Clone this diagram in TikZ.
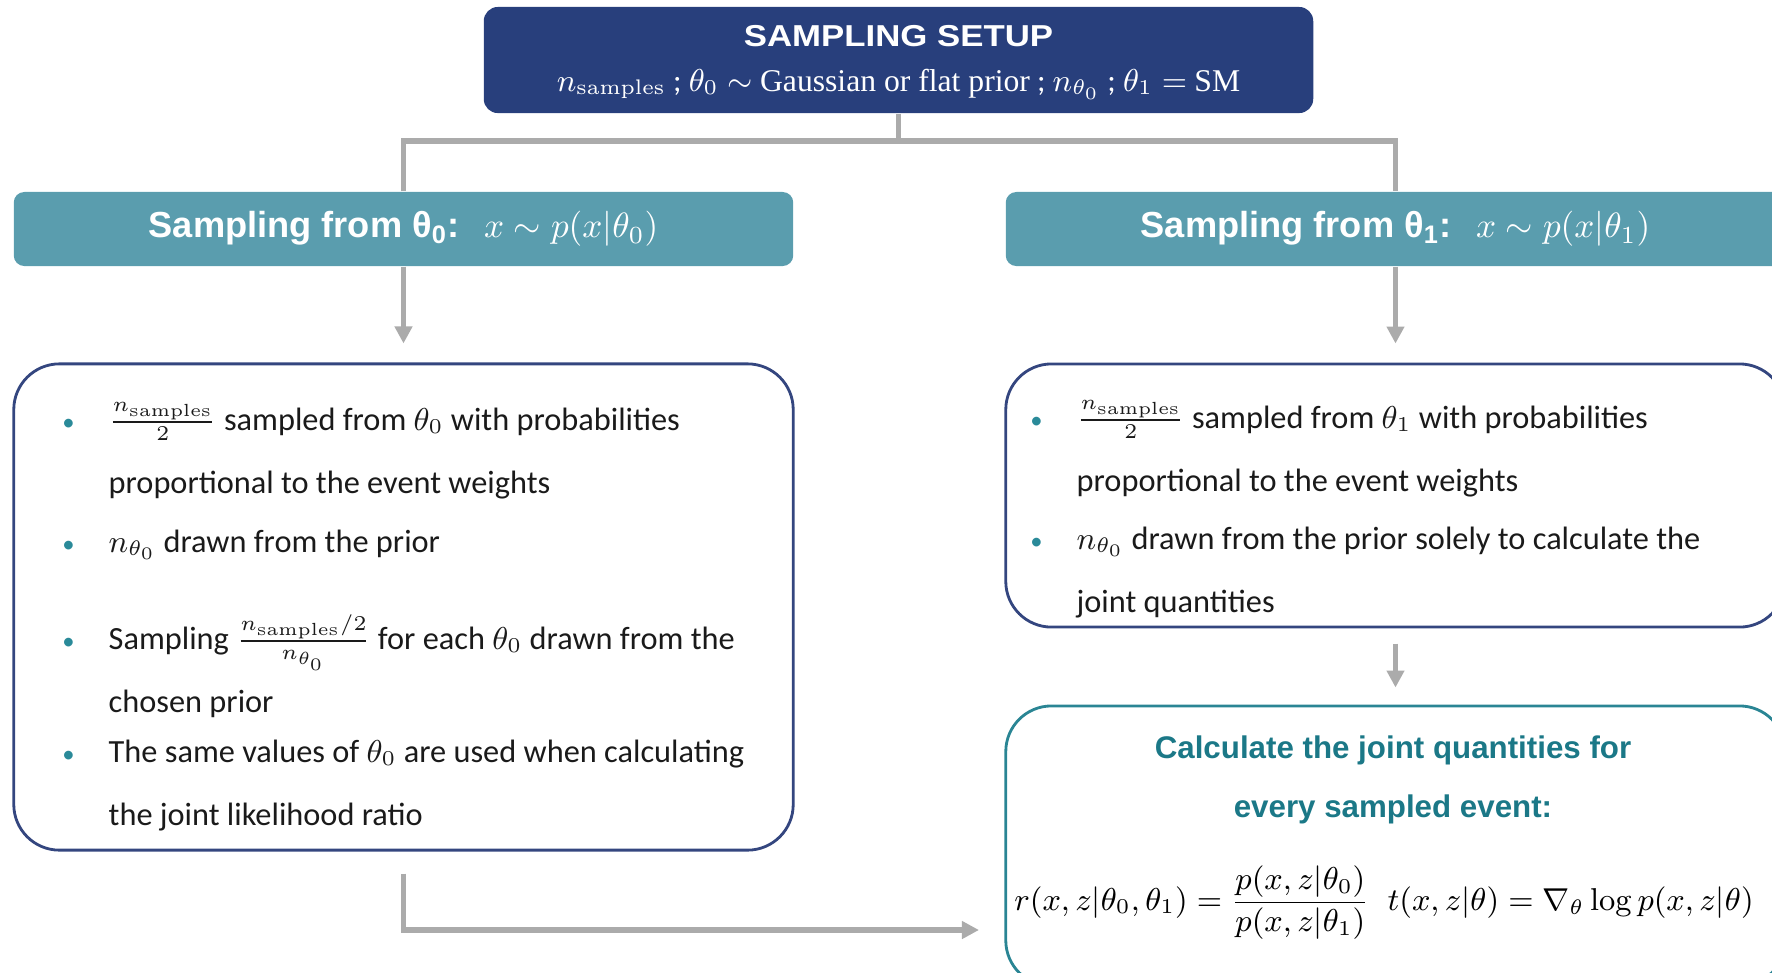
\documentclass[tikz,border=0pt]{standalone}
\usepackage[no-math]{fontspec}
\usepackage{amsmath}
\setmainfont{Carlito}
\newfontfamily\titlefont[FakeStretch=1.15]{Liberation Sans}
\newfontfamily\headfont{Liberation Sans}
\newfontfamily\serifword{Liberation Serif}
\usetikzlibrary{arrows.meta,positioning}
\definecolor{setupNavy}{HTML}{283F7C}
\definecolor{headTeal}{HTML}{5A9DAE}
\definecolor{boxNavy}{HTML}{34467F}
\definecolor{calcTeal}{HTML}{2A8594}
\definecolor{calcInk}{HTML}{1B7887}
\definecolor{bulletTeal}{HTML}{2A8A99}
\definecolor{linkGray}{HTML}{ABABAB}
\definecolor{bodyInk}{HTML}{1A1A1A}
\newcommand{\bul}{\llap{\textcolor{bulletTeal}{\fontsize{7pt}{7pt}\selectfont\textbullet}\hspace{0.34cm}}}

\begin{document}
\begin{tikzpicture}[
      x=0.01cm, y=-0.01cm,
      setupbox/.style={rectangle, rounded corners=4pt, fill=setupNavy, minimum width=8.29cm, minimum height=1.06cm},
      headbox/.style={rectangle, rounded corners=3pt, fill=headTeal, minimum width=7.79cm, minimum height=0.74cm, text=white, font=\headfont\bfseries\fontsize{10.3pt}{12pt}\selectfont},
      listbox/.style={rectangle, rounded corners=13pt, draw=boxNavy, line width=0.8pt, minimum width=7.79cm},
      calcbox/.style={listbox, draw=calcTeal},
      bodytext/.style={anchor=base west, align=left, inner sep=0pt, text=bodyInk, font=\fontsize{9.2pt}{17.9pt}\selectfont},
      link/.style={draw=linkGray, line width=1.6pt},
      arrow/.style={link, -{Triangle[length=0.17cm, width=0.17cm]}}
    ]
      \clip (0,0) rectangle (1772,972);
      % setup at the top
      \node[setupbox] (setup) at (898.5,60) {};
      \node[text=white, font=\titlefont\bfseries\fontsize{8.6pt}{10pt}\selectfont] (setupTitle) at (898.5,36) {SAMPLING SETUP};
      \node[text=white, font=\fontsize{9pt}{11pt}\selectfont] (setupSub) at (898.5,84) {$n_{\mathrm{samples}}$ ; $\theta_0\sim$ {\serifword Gaussian or flat prior} ; $n_{\theta_0}$ ; $\theta_1=$ {\serifword SM}};
      % the two sampling branches
      \node[headbox] (headL) at (403.5,229) {Sampling from θ\textsubscript{0}:\enspace\,$x\sim p(x|\theta_0)$};
      \node[headbox] (headR) at (1395.5,229) {Sampling from θ\textsubscript{1}:\enspace\,$x\sim p(x|\theta_1)$};
      \node[listbox, minimum height=4.86cm] (listL) at (403.5,607) {};
      \node[listbox, minimum height=2.63cm] (listR) at (1395.5,495.5) {};
      \node[calcbox, minimum height=2.8cm] (calc) at (1395.5,846) {};
      \coordinate (fork) at (898.5,141);
      \coordinate (feed) at (1006,930);
      \draw[link] (setup) -- (fork);
      \draw[link] (headL.north) |- (fork) -| (headR.north);
      \draw[arrow, shorten >=0.19cm] (headL) -- (listL);
      \draw[arrow, shorten >=0.19cm] (headR) -- (listR);
      \draw[arrow, shorten <=0.15cm, shorten >=0.17cm] (listR) -- (calc);
      \draw[arrow, shorten <=0.22cm, shorten >=0.27cm] (listL) |- (feed);
      % left list (placed by the baseline of the last line)
      \node[bodytext] (itemL1) at (108,493) {\bul$\frac{n_{\mathrm{samples}}}{2}$ sampled from $\theta_0$ with probabilities\\proportional to the event weights};
      \node[bodytext] (itemL2) at (108,552) {\bul$n_{\theta_0}$ drawn from the prior};
      \node[bodytext] (itemL3) at (108,712) {\bul Sampling $\frac{n_{\mathrm{samples}}/2}{n_{\theta_0}}$ for each $\theta_0$ drawn from the\\chosen prior};
      \node[bodytext] (itemL4) at (108,825) {\bul The same values of $\theta_0$ are used when calculating\\the joint likelihood ratio};
      % right list
      \node[bodytext] (itemR1) at (1076,491) {\bul$\frac{n_{\mathrm{samples}}}{2}$ sampled from $\theta_1$ with probabilities\\proportional to the event weights};
      \node[bodytext] (itemR2) at (1076,612) {\bul$n_{\theta_0}$ drawn from the prior solely to calculate the\\joint quantities};
      % joint quantities
      \node[align=center, text=calcInk, font=\headfont\bfseries\fontsize{8.9pt}{17pt}\selectfont] (calcHead) at (1393,780) {Calculate the joint quantities for\\every sampled event:};
      \node[font=\fontsize{9.2pt}{12pt}\selectfont] (calcEq) at (1384,903) {$\displaystyle r(x,z|\theta_0,\theta_1)=\frac{p(x,z|\theta_0)}{p(x,z|\theta_1)}\;\; t(x,z|\theta)=\nabla_\theta\log p(x,z|\theta)$};
    \end{tikzpicture}
\end{document}
